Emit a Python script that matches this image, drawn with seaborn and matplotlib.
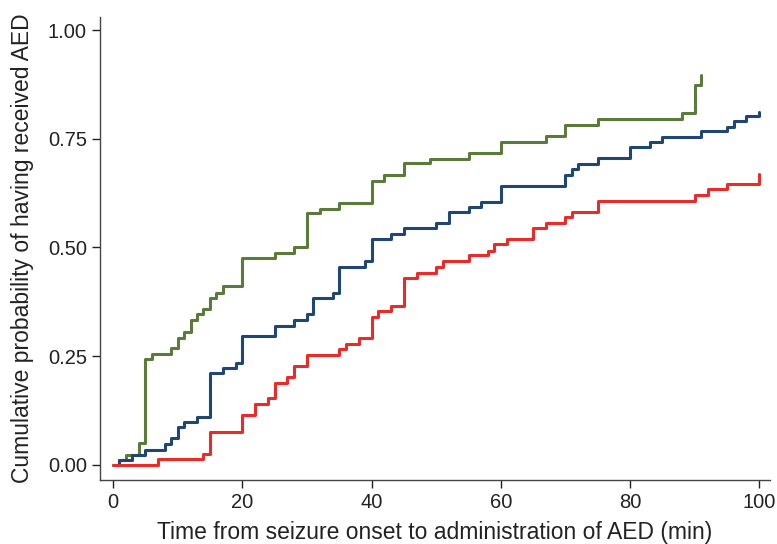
import numpy as np
import pandas as pd
import matplotlib
matplotlib.use("Agg")
import matplotlib.pyplot as plt
import seaborn as sns

# Step-curve data (time in minutes, cumulative probability)
green_t = [0, 1, 2, 4, 5, 6, 9, 10, 11, 12, 13, 14, 15, 16, 17, 20, 25, 28, 30, 32, 35,
           40, 42, 45, 49, 55, 60, 67, 70, 75, 88, 90, 91]
green_p = [0, 0.011, 0.023, 0.05, 0.244, 0.255, 0.269, 0.292, 0.306, 0.333, 0.347, 0.358,
           0.384, 0.396, 0.411, 0.476, 0.487, 0.501, 0.579, 0.588, 0.602, 0.653, 0.667,
           0.694, 0.703, 0.717, 0.743, 0.756, 0.782, 0.795, 0.809, 0.874, 0.897]

blue_t = [1, 1.01, 3, 5, 8, 9, 10, 11, 13, 15, 17, 19, 20, 25, 28, 30, 31, 34, 35, 39, 40,
          43, 45, 50, 52, 55, 57, 60, 70, 71, 72, 75, 80, 83, 85, 91, 95, 96, 98, 100]
blue_p = [0, 0.011, 0.023, 0.034, 0.048, 0.062, 0.087, 0.099, 0.11, 0.211, 0.222, 0.235,
          0.296, 0.32, 0.333, 0.346, 0.383, 0.395, 0.456, 0.469, 0.519, 0.532, 0.544,
          0.556, 0.581, 0.593, 0.605, 0.641, 0.667, 0.68, 0.692, 0.706, 0.731, 0.743,
          0.754, 0.768, 0.777, 0.791, 0.802, 0.811]

red_t = [0, 7, 14, 15, 20, 22, 24, 25, 27, 28, 30, 35, 36, 38, 40, 41, 43, 45, 47, 50, 51,
         55, 58, 59, 61, 65, 67, 70, 71, 75, 90, 92, 95, 100]
red_p = [0, 0.013, 0.024, 0.076, 0.115, 0.14, 0.154, 0.189, 0.202, 0.228, 0.253, 0.266,
         0.279, 0.292, 0.34, 0.354, 0.365, 0.429, 0.442, 0.454, 0.469, 0.483, 0.493,
         0.507, 0.519, 0.545, 0.556, 0.57, 0.582, 0.607, 0.62, 0.634, 0.646, 0.669]

x_ticks = [0, 20, 40, 60, 80, 100]
y_ticks = [0.00, 0.25, 0.50, 0.75, 1.00]
y_tick_labels = ["0.00", "0.25", "0.50", "0.75", "1.00"]

df = pd.concat([
    pd.DataFrame({"t": green_t, "p": green_p, "group": "green"}),
    pd.DataFrame({"t": blue_t, "p": blue_p, "group": "blue"}),
    pd.DataFrame({"t": red_t, "p": red_p, "group": "red"}),
], ignore_index=True)

palette = {"green": "#5a7b3a", "blue": "#1f4675", "red": "#ea2b28"}

sns.set_style("ticks")
plt.rcParams["font.family"] = ["Liberation Sans", "DejaVu Sans"]

fig = plt.figure(figsize=(7.77, 5.44), dpi=100)
ax = fig.add_axes([0.1287, 0.1176, 0.862, 0.851])

sns.lineplot(data=df, x="t", y="p", hue="group", palette=palette,
             hue_order=["green", "blue", "red"], estimator=None, sort=False,
             drawstyle="steps-post", linewidth=2.2, legend=False, ax=ax)

ax.set_xlim(-2.0, 101.6)
ax.set_ylim(-0.035, 1.03)
ax.set_xticks(x_ticks)
ax.set_yticks(y_ticks)
ax.set_yticklabels(y_tick_labels)
ax.set_xlabel("Time from seizure onset to administration of AED (min)",
              fontsize=16.5, color="#222222", labelpad=6)
ax.set_ylabel("Cumulative probability of having received AED",
              fontsize=16.5, color="#222222", labelpad=10)
ax.tick_params(axis="both", labelsize=14.5, colors="#222222", length=6, width=1,
               direction="out")
for s in ["left", "bottom"]:
    ax.spines[s].set_color("#444444")
    ax.spines[s].set_linewidth(1.0)
sns.despine(ax=ax)

fig.savefig("out.png", dpi=100)
